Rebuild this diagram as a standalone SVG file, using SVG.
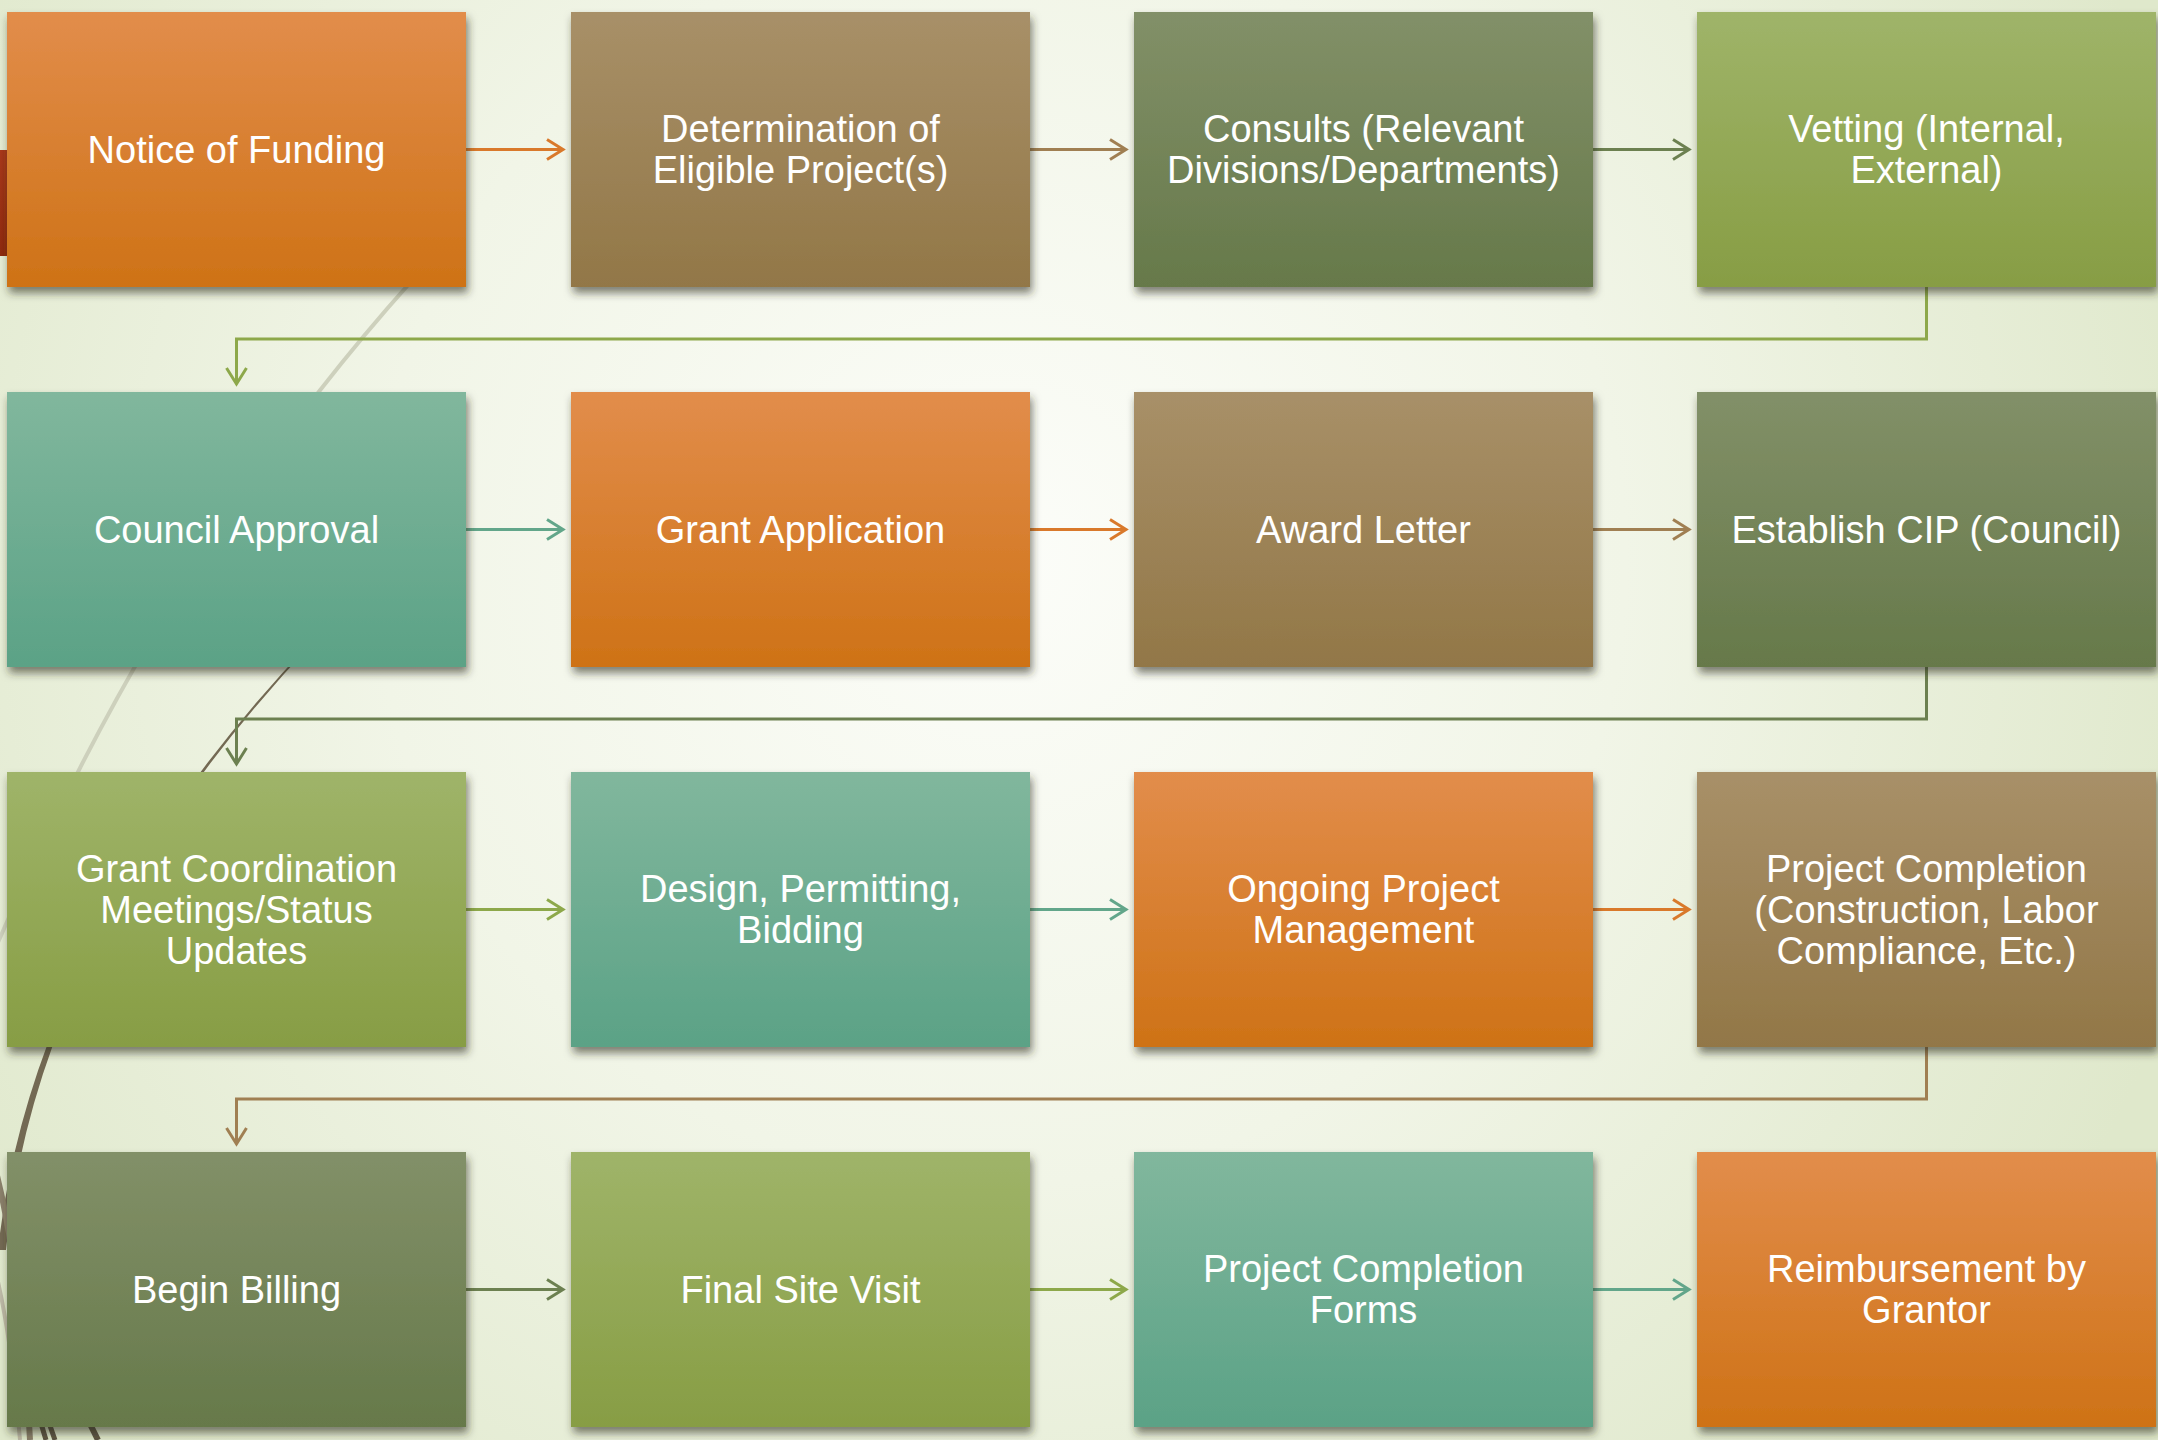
<svg xmlns="http://www.w3.org/2000/svg" width="2158" height="1440" viewBox="0 0 2158 1440">
  <defs>
    <radialGradient id="bg" cx="1000" cy="560" r="1250" gradientUnits="userSpaceOnUse">
      <stop offset="0" stop-color="#FCFDF9"/>
      <stop offset="0.5" stop-color="#F1F5E7"/>
      <stop offset="1" stop-color="#DFE8CB"/>
    </radialGradient>
    <linearGradient id="gOrange" x1="0" y1="0" x2="0" y2="1">
      <stop offset="0" stop-color="#E28D4B"/>
      <stop offset="1" stop-color="#CE7216"/>
    </linearGradient>
    <linearGradient id="gBrown" x1="0" y1="0" x2="0" y2="1">
      <stop offset="0" stop-color="#A89068"/>
      <stop offset="1" stop-color="#927747"/>
    </linearGradient>
    <linearGradient id="gDark" x1="0" y1="0" x2="0" y2="1">
      <stop offset="0" stop-color="#829068"/>
      <stop offset="1" stop-color="#66794A"/>
    </linearGradient>
    <linearGradient id="gLight" x1="0" y1="0" x2="0" y2="1">
      <stop offset="0" stop-color="#9FB469"/>
      <stop offset="1" stop-color="#879D44"/>
    </linearGradient>
    <linearGradient id="gTeal" x1="0" y1="0" x2="0" y2="1">
      <stop offset="0" stop-color="#81B79D"/>
      <stop offset="1" stop-color="#5BA286"/>
    </linearGradient>
    <linearGradient id="gRed" x1="0" y1="0" x2="0" y2="1">
      <stop offset="0" stop-color="#A8381A"/>
      <stop offset="1" stop-color="#8E2A0E"/>
    </linearGradient>
    <filter id="shadow" x="-5%" y="-5%" width="112%" height="120%">
      <feDropShadow dx="2" dy="6" stdDeviation="4" flood-color="#2E2E22" flood-opacity="0.6"/>
    </filter>
    <marker id="aOrange" viewBox="0 0 24 24" refX="20" refY="12" markerWidth="24" markerHeight="24" markerUnits="userSpaceOnUse" orient="auto">
      <path d="M4,2 L20,12 L4,22" fill="none" stroke="#D9792B" stroke-width="3"/>
    </marker>
    <marker id="aBrown" viewBox="0 0 24 24" refX="20" refY="12" markerWidth="24" markerHeight="24" markerUnits="userSpaceOnUse" orient="auto">
      <path d="M4,2 L20,12 L4,22" fill="none" stroke="#A07F52" stroke-width="3"/>
    </marker>
    <marker id="aDark" viewBox="0 0 24 24" refX="20" refY="12" markerWidth="24" markerHeight="24" markerUnits="userSpaceOnUse" orient="auto">
      <path d="M4,2 L20,12 L4,22" fill="none" stroke="#6C8050" stroke-width="3"/>
    </marker>
    <marker id="aLight" viewBox="0 0 24 24" refX="20" refY="12" markerWidth="24" markerHeight="24" markerUnits="userSpaceOnUse" orient="auto">
      <path d="M4,2 L20,12 L4,22" fill="none" stroke="#8DA84A" stroke-width="3"/>
    </marker>
    <marker id="aTeal" viewBox="0 0 24 24" refX="20" refY="12" markerWidth="24" markerHeight="24" markerUnits="userSpaceOnUse" orient="auto">
      <path d="M4,2 L20,12 L4,22" fill="none" stroke="#62A68A" stroke-width="3"/>
    </marker>
  </defs>
  <style>
    .box { filter: url(#shadow); }
    .orange { fill: url(#gOrange); }
    .brown { fill: url(#gBrown); }
    .dark { fill: url(#gDark); }
    .light { fill: url(#gLight); }
    .teal { fill: url(#gTeal); }
    .lbl { font-family: "Liberation Sans", Arial, sans-serif; font-size: 38px; fill: #FFFFFF; text-anchor: middle; }
    .c { fill: none; stroke-width: 3; }
    .cOrange { stroke: #D9792B; marker-end: url(#aOrange); }
    .cBrown { stroke: #A07F52; marker-end: url(#aBrown); }
    .cDark { stroke: #6C8050; marker-end: url(#aDark); }
    .cLight { stroke: #8DA84A; marker-end: url(#aLight); }
    .cTeal { stroke: #62A68A; marker-end: url(#aTeal); }
  </style>

  <!-- background -->
  <rect x="0" y="0" width="2158" height="1440" fill="url(#bg)"/>
  <g id="decoration">
    <rect x="0" y="150" width="7" height="106" fill="url(#gRed)"/>
    <path d="M 440 250 Q 150 560 -30 1010" fill="none" stroke="#CDD0BC" stroke-width="4"/>
    <path d="M 380 575 Q 40 900 6 1250 L -2 1250 Q 36 900 379 574 Z" fill="#736953"/>
    <path d="M -10 1150 Q 20 1250 30 1440" fill="none" stroke="#8A806A" stroke-width="6"/>
    <path d="M -10 1250 Q 10 1320 20 1440" fill="none" stroke="#BDB9A6" stroke-width="4"/>
    <path d="M 40 1420 L 46 1440 M 48 1420 L 55 1440" stroke="#5E5543" stroke-width="5"/>
    <path d="M 88 1420 L 98 1440" stroke="#5E5543" stroke-width="6"/>
  </g>

  <!-- connectors -->
  <g id="connectors">
    <path class="c cOrange" d="M 466 149.5 H 563"/>
    <path class="c cBrown" d="M 1030 149.5 H 1126"/>
    <path class="c cDark" d="M 1593 149.5 H 1689"/>
    <path class="c cLight" d="M 1926.5 287 V 339 H 236.5 V 384"/>
    <path class="c cTeal" d="M 466 529.5 H 563"/>
    <path class="c cOrange" d="M 1030 529.5 H 1126"/>
    <path class="c cBrown" d="M 1593 529.5 H 1689"/>
    <path class="c cDark" d="M 1926.5 667 V 719 H 236.5 V 764"/>
    <path class="c cLight" d="M 466 909.5 H 563"/>
    <path class="c cTeal" d="M 1030 909.5 H 1126"/>
    <path class="c cOrange" d="M 1593 909.5 H 1689"/>
    <path class="c cBrown" d="M 1926.5 1047 V 1099 H 236.5 V 1144"/>
    <path class="c cDark" d="M 466 1289.5 H 563"/>
    <path class="c cLight" d="M 1030 1289.5 H 1126"/>
    <path class="c cTeal" d="M 1593 1289.5 H 1689"/>
  </g>

  <!-- row 1 -->
  <g id="n1"><rect class="box orange" x="7" y="12" width="459" height="275"/>
    <text class="lbl" x="236.5" y="162.5">Notice of Funding</text></g>
  <g id="n2"><rect class="box brown" x="571" y="12" width="459" height="275"/>
    <text class="lbl" x="800.5" y="142">Determination of</text>
    <text class="lbl" x="800.5" y="183">Eligible Project(s)</text></g>
  <g id="n3"><rect class="box dark" x="1134" y="12" width="459" height="275"/>
    <text class="lbl" x="1363.5" y="142">Consults (Relevant</text>
    <text class="lbl" x="1363.5" y="183">Divisions/Departments)</text></g>
  <g id="n4"><rect class="box light" x="1697" y="12" width="459" height="275"/>
    <text class="lbl" x="1926.5" y="142">Vetting (Internal,</text>
    <text class="lbl" x="1926.5" y="183">External)</text></g>

  <!-- row 2 -->
  <g id="n5"><rect class="box teal" x="7" y="392" width="459" height="275"/>
    <text class="lbl" x="236.5" y="542.5">Council Approval</text></g>
  <g id="n6"><rect class="box orange" x="571" y="392" width="459" height="275"/>
    <text class="lbl" x="800.5" y="542.5">Grant Application</text></g>
  <g id="n7"><rect class="box brown" x="1134" y="392" width="459" height="275"/>
    <text class="lbl" x="1363.5" y="542.5">Award Letter</text></g>
  <g id="n8"><rect class="box dark" x="1697" y="392" width="459" height="275"/>
    <text class="lbl" x="1926.5" y="542.5">Establish CIP (Council)</text></g>

  <!-- row 3 -->
  <g id="n9"><rect class="box light" x="7" y="772" width="459" height="275"/>
    <text class="lbl" x="236.5" y="881.5">Grant Coordination</text>
    <text class="lbl" x="236.5" y="922.5">Meetings/Status</text>
    <text class="lbl" x="236.5" y="963.5">Updates</text></g>
  <g id="n10"><rect class="box teal" x="571" y="772" width="459" height="275"/>
    <text class="lbl" x="800.5" y="902">Design, Permitting,</text>
    <text class="lbl" x="800.5" y="943">Bidding</text></g>
  <g id="n11"><rect class="box orange" x="1134" y="772" width="459" height="275"/>
    <text class="lbl" x="1363.5" y="902">Ongoing Project</text>
    <text class="lbl" x="1363.5" y="943">Management</text></g>
  <g id="n12"><rect class="box brown" x="1697" y="772" width="459" height="275"/>
    <text class="lbl" x="1926.5" y="881.5">Project Completion</text>
    <text class="lbl" x="1926.5" y="922.5">(Construction, Labor</text>
    <text class="lbl" x="1926.5" y="963.5">Compliance, Etc.)</text></g>

  <!-- row 4 -->
  <g id="n13"><rect class="box dark" x="7" y="1152" width="459" height="275"/>
    <text class="lbl" x="236.5" y="1302.5">Begin Billing</text></g>
  <g id="n14"><rect class="box light" x="571" y="1152" width="459" height="275"/>
    <text class="lbl" x="800.5" y="1302.5">Final Site Visit</text></g>
  <g id="n15"><rect class="box teal" x="1134" y="1152" width="459" height="275"/>
    <text class="lbl" x="1363.5" y="1282">Project Completion</text>
    <text class="lbl" x="1363.5" y="1323">Forms</text></g>
  <g id="n16"><rect class="box orange" x="1697" y="1152" width="459" height="275"/>
    <text class="lbl" x="1926.5" y="1282">Reimbursement by</text>
    <text class="lbl" x="1926.5" y="1323">Grantor</text></g>
</svg>
